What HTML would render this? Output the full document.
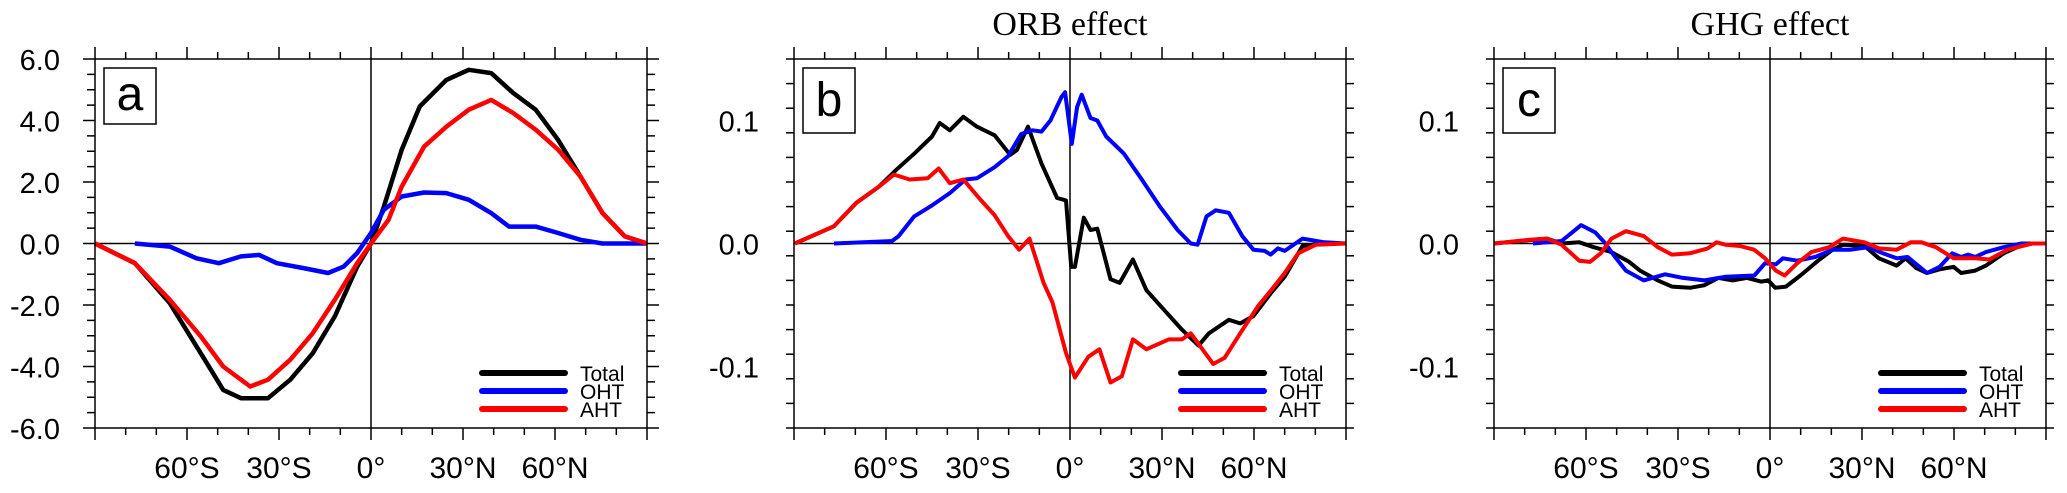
<!DOCTYPE html>
<html><head><meta charset="utf-8"><style>
html,body{margin:0;padding:0;background:#fff;}
svg{display:block;}
</style></head><body>
<svg id="fig" width="2067" height="493" viewBox="0 0 2067 493" xmlns="http://www.w3.org/2000/svg" font-family="Liberation Sans, sans-serif"></svg>
<script>
// ---- Panel a data (PW) ----
const aTotalLat = [-90,-77,-65.6,-55.5,-48.2,-42.4,-33.6,-26.3,-19,-11.8,-4.5,0,4.2,10,15.9,24.6,31.9,39.2,46.4,53.7,61,68.3,75.5,82.8,90];
const aTotalVal = [0,-0.64,-1.94,-3.57,-4.76,-5.03,-5.03,-4.43,-3.57,-2.37,-0.75,0,1.2,3.05,4.46,5.32,5.65,5.54,4.89,4.35,3.37,2.18,0.99,0.23,0];
const aAhtLat = [-90,-77,-65.6,-55.5,-48.2,-39.4,-33.6,-26.3,-19,-11.8,-4.5,0,5.7,10,17.3,24.6,31.9,39.2,46.4,53.7,61,68.3,75.5,82.8,90];
const aAhtVal = [0,-0.64,-1.83,-3.02,-4.0,-4.65,-4.43,-3.78,-2.92,-1.83,-0.64,0,0.77,1.85,3.15,3.8,4.35,4.67,4.24,3.7,3.05,2.18,0.99,0.23,0];
const aOhtLat = [-77,-65.6,-56.9,-49.6,-42.4,-36.5,-30.7,-22,-14,-8.9,-4.5,0,4.2,10,17.3,24.6,31.9,39.2,45,53.7,61,68.3,75.5,90];
const aOhtVal = [0,-0.1,-0.48,-0.64,-0.42,-0.37,-0.64,-0.8,-0.96,-0.75,-0.31,0.34,1.1,1.53,1.66,1.64,1.42,0.99,0.55,0.55,0.34,0.12,0,0];
// ---- Panel b data (ORB) ----
const bTotalLat = [-89.7,-77,-69.7,-62.4,-56.6,-50.8,-45,-42.5,-39.2,-34.8,-30.4,-24.6,-19.5,-17.3,-13.7,-9.3,-4.2,-1.3,0.4,1.6,4.5,6.7,8.9,13.2,16.2,20.5,24.9,30.7,36.5,41.9,45.3,51.8,55.5,59.8,65.6,70,75.8,83,90];
const bTotalVal = [0,0.014,0.033,0.046,0.06,0.073,0.087,0.098,0.092,0.103,0.095,0.088,0.072,0.076,0.095,0.065,0.037,0.035,-0.019,-0.019,0.021,0.011,0.012,-0.029,-0.032,-0.013,-0.038,-0.054,-0.07,-0.083,-0.073,-0.062,-0.065,-0.059,-0.04,-0.027,-0.002,0,0];
const bAhtLat = [-89.7,-77,-69.7,-62.4,-57.4,-52.3,-46.4,-42.8,-39.2,-34.8,-29,-24.6,-20.2,-16.6,-13.2,-8.6,-5.7,-1.3,1.6,6,9.6,13.2,16.9,20.5,24.9,32.2,36.5,39.4,46.7,50.4,55.5,61.3,65.6,70,74.4,80.2,90];
const bAhtVal = [0,0.014,0.033,0.046,0.056,0.052,0.053,0.061,0.049,0.052,0.035,0.023,0.006,-0.005,0.004,-0.032,-0.048,-0.089,-0.109,-0.092,-0.086,-0.113,-0.108,-0.078,-0.086,-0.078,-0.078,-0.073,-0.098,-0.093,-0.073,-0.051,-0.038,-0.024,-0.008,-0.001,0];
const bOhtLat = [-77,-58,-55.9,-50.8,-45,-39.2,-34.1,-30.4,-24.6,-20.2,-15.9,-12.2,-9.3,-6.4,-2.8,-1.6,0.6,2.3,3.8,6.7,8.9,11.8,17.6,23.4,29.3,35.1,39.4,41.6,44.5,47.5,51.8,56.2,59.8,63.5,65.4,67.8,70,75.8,83,90];
const bOhtVal = [0,0.002,0.006,0.022,0.031,0.041,0.052,0.053,0.062,0.071,0.089,0.092,0.091,0.1,0.119,0.123,0.081,0.111,0.121,0.102,0.1,0.087,0.073,0.052,0.03,0.011,0,-0.001,0.022,0.027,0.025,0.006,-0.005,-0.006,-0.009,-0.004,-0.006,0.004,0.001,0];
// ---- Panel c data (GHG) ----
const cTotalLat = [-90,-77.3,-72.7,-68,-62.2,-57.5,-51.7,-45.9,-42.4,-36.6,-32,-26.1,-21.5,-16.8,-12.2,-7.5,-2.9,-0.6,1.7,5.2,9.9,15.7,20.4,23.8,30.8,35.5,41.3,44.2,47.7,51.2,55.3,59.9,62.3,66.9,70.4,76.2,83.2,87.9,90];
const cTotalVal = [0,0.003,0.004,0,0.001,-0.003,-0.007,-0.015,-0.022,-0.03,-0.035,-0.036,-0.034,-0.028,-0.03,-0.028,-0.031,-0.03,-0.036,-0.035,-0.026,-0.014,-0.005,-0.001,-0.002,-0.012,-0.018,-0.012,-0.02,-0.024,-0.021,-0.019,-0.024,-0.022,-0.018,-0.008,0,0,0];
const cOhtLat = [-77.3,-68,-64.5,-61.6,-57,-54,-50.5,-47,-41.2,-34.2,-28.4,-21.4,-14.4,-5.1,-1.6,1.9,4.2,8.9,14.7,20.4,26.3,32.1,36.8,41.3,44.9,51.2,55.3,59.4,62.3,64.6,66.9,70.4,76.2,82,90];
const cOhtVal = [0,0.002,0.009,0.015,0.009,0.001,-0.011,-0.022,-0.03,-0.025,-0.028,-0.03,-0.027,-0.026,-0.016,-0.017,-0.012,-0.014,-0.011,-0.005,-0.005,-0.003,-0.008,-0.012,-0.011,-0.024,-0.019,-0.008,-0.011,-0.009,-0.011,-0.007,-0.003,0,0];
const cAhtLat = [-90,-78.4,-72.7,-68,-62.2,-58.7,-55.2,-51.7,-47,-41.2,-36.6,-32,-26.1,-20.3,-17.4,-14.5,-9.8,-5.2,-1.6,1.9,4.8,8.9,13.5,19.3,23.8,30.8,35.5,41.3,45.9,49.4,54.1,59.9,66.9,71.5,77.4,85.5,90];
const cAhtVal = [0,0.003,0.004,-0.001,-0.014,-0.015,-0.008,0.004,0.01,0.006,-0.003,-0.009,-0.008,-0.004,0.001,-0.001,-0.002,-0.005,-0.012,-0.022,-0.026,-0.016,-0.007,-0.003,0.004,0.001,-0.004,-0.005,0.001,0.001,-0.003,-0.012,-0.012,-0.013,-0.005,0,0];
// ---- tick labels ----
const xTickVals = [-60,-30,0,30,60];
const xTickLabels = ["60°S","30°S","0°","30°N","60°N"];
const aYTickVals = [6,4,2,0,-2,-4,-6];
const aYTickLabels = ["6.0","4.0","2.0","0.0","-2.0","-4.0","-6.0"];
const bYTickVals = [0.1,0,-0.1];
const bYTickLabels = ["0.1","0.0","-0.1"];
const legendNames = ["Total","OHT","AHT"];
const seriesColors = ["#000000","#0000ff","#ff0000"];

const NS = "http://www.w3.org/2000/svg";
const svg = document.getElementById("fig");
function mk(tag, attrs, parent){
  const e = document.createElementNS(NS, tag);
  for (const k in attrs) e.setAttribute(k, attrs[k]);
  (parent || svg).appendChild(e);
  return e;
}

function panel(id, left, ymax, yMajor, yMinor, yTickVals, yTickLabels, series, letter, title, lw){
  const top = 59, bottom = 428, right = left + 552;
  const g = mk("g", {});
  
  
  const xs = lat => left + (lat + 90) / 180 * (right - left);
  const ys = v => top + (ymax - v) / (2 * ymax) * (bottom - top);
  for (let lat = -90; lat <= 90; lat += 10) {
    const major = (lat % 30 === 0);
    const L = major ? 12 : 7;
    const x = xs(lat);
    mk("line", {x1:x, x2:x, y1:top, y2:top - L, stroke:"#000", "stroke-width":1.5}, g);
    mk("line", {x1:x, x2:x, y1:bottom, y2:bottom + L, stroke:"#000", "stroke-width":1.5}, g);
  }
  const nMin = Math.round(2 * ymax / yMinor);
  for (let i = 0; i <= nMin; i++) {
    const v = -ymax + i * yMinor;
    const isMaj = Math.abs(v / yMajor - Math.round(v / yMajor)) < 1e-6;
    const L = isMaj ? 12 : 8;
    const y = ys(v);
    mk("line", {x1:left, x2:left - L, y1:y, y2:y, stroke:"#000", "stroke-width":1.5}, g);
    mk("line", {x1:right, x2:right + L, y1:y, y2:y, stroke:"#000", "stroke-width":1.5}, g);
  }
  yTickVals.forEach((v, i) => {
    const t = mk("text", {x:left - 35, y:ys(v) + 11, "text-anchor":"end", "font-size":29}, g);
    
    
    t.textContent = yTickLabels[i];
  });
  xTickVals.forEach((v, i) => {
    const t = mk("text", {x:xs(v), y:478, "text-anchor":"middle", "font-size":30}, g);
    
    
    t.textContent = xTickLabels[i];
  });
  mk("line", {x1:left, x2:right, y1:ys(0), y2:ys(0), stroke:"#000", "stroke-width":1.5}, g);
  mk("line", {x1:xs(0), x2:xs(0), y1:top, y2:bottom, stroke:"#000", "stroke-width":1.5}, g);
  series.forEach((s, k) => {
    const d = s.lat.map((la, i) => (i ? "L" : "M") + xs(la).toFixed(1) + "," + ys(s.val[i]).toFixed(1)).join(" ");
    const p = mk("path", {d:d, fill:"none", stroke:seriesColors[k], "stroke-width":lw, "stroke-linejoin":"round"}, g);
    
    
  });
  const fr = mk("rect", {x:left, y:top, width:right - left, height:bottom - top, fill:"none", stroke:"#000", "stroke-width":1.5}, g);
  
  
  const bx = mk("rect", {x:left + 9, y:68, width:52, height:letter === "a" ? 56 : 65, fill:"#fff", stroke:"#000", "stroke-width":1.5}, g);
  
  
  const lt = mk("text", {x:left + 35, y:letter === "a" ? 110 : 116, "text-anchor":"middle", "font-size":48}, g);
  
  
  lt.textContent = letter;
  const lg = mk("g", {}, g);
  
  
  legendNames.forEach((n, k) => {
    const y = 373 + k * 18;
    mk("line", {x1:right - 165, x2:right - 82, y1:y, y2:y, stroke:seriesColors[k], "stroke-width":6, "stroke-linecap":"round"}, lg);
    const t = mk("text", {x:right - 67, y:y + 8, "font-size":21}, lg);
    
    
    t.textContent = n;
  });
  if (title) {
    const tt = mk("text", {x:xs(0), y:35, "text-anchor":"middle", "font-size":34, "font-family":"Liberation Serif, serif"}, g);
    
    
    tt.textContent = title;
  }
}

panel("a", 95, 6, 2, 0.5, aYTickVals, aYTickLabels,
  [{lat:aTotalLat, val:aTotalVal},{lat:aOhtLat, val:aOhtVal},{lat:aAhtLat, val:aAhtVal}], "a", null, 4.5);
panel("b", 794, 0.15, 0.1, 0.02, bYTickVals, bYTickLabels,
  [{lat:bTotalLat, val:bTotalVal},{lat:bOhtLat, val:bOhtVal},{lat:bAhtLat, val:bAhtVal}], "b", "ORB effect", 4);
panel("c", 1494, 0.15, 0.1, 0.02, bYTickVals, bYTickLabels,
  [{lat:cTotalLat, val:cTotalVal},{lat:cOhtLat, val:cOhtVal},{lat:cAhtLat, val:cAhtVal}], "c", "GHG effect", 4);
</script>
</body></html>
